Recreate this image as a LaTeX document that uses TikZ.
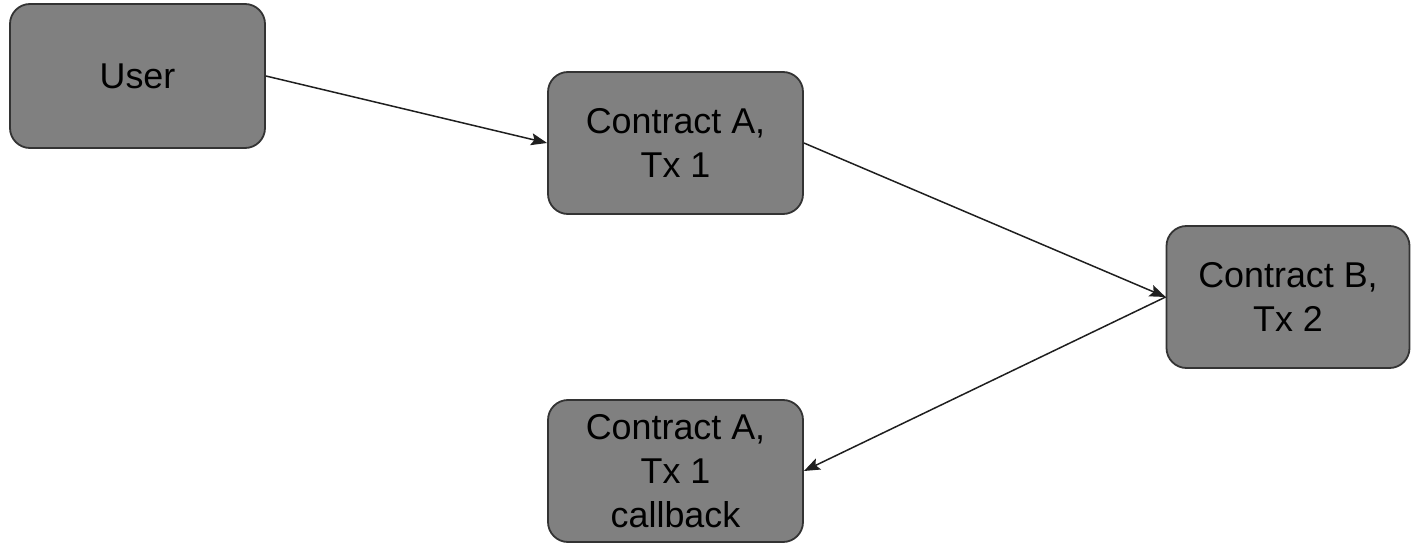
\documentclass[tikz,border=0pt]{standalone}
\usepackage{fontspec}
\setmainfont{Liberation Sans}
\usetikzlibrary{arrows.meta}
\definecolor{boxfill}{HTML}{808080}
\definecolor{boxline}{HTML}{333333}
\definecolor{arrowline}{HTML}{1f1f1f}
\begin{document}
\begin{tikzpicture}[x=1bp,y=-1bp,
  box/.style={draw=boxline, fill=boxfill, line width=1.8bp, rounded corners=20bp,
    rectangle, inner sep=0pt, align=center, text=black,
    font=\fontsize{36}{44}\selectfont},
  conn/.style={draw=arrowline, line width=1.5bp,
    -{Stealth[length=16bp,width=12bp,inset=3bp]}}]
\useasboundingbox (0,0) rectangle (1411,545);
\node[box, minimum width=255bp, minimum height=144bp] (user) at (137.5,76) {User};
\node[box, minimum width=255bp, minimum height=142bp] (a) at (675.5,143) {Contract A,\\Tx 1};
\node[box, minimum width=243bp, minimum height=142bp] (b) at (1288,297) {Contract B,\\Tx 2};
\node[box, minimum width=255bp, minimum height=142bp] (cb) at (675.5,471) {Contract A,\\Tx 1\\callback};
\draw[conn] (user.east) -- (a.west);
\draw[conn] (a.east) -- (b.west);
\draw[conn] (b.west) -- (cb.east);
\end{tikzpicture}
\end{document}
